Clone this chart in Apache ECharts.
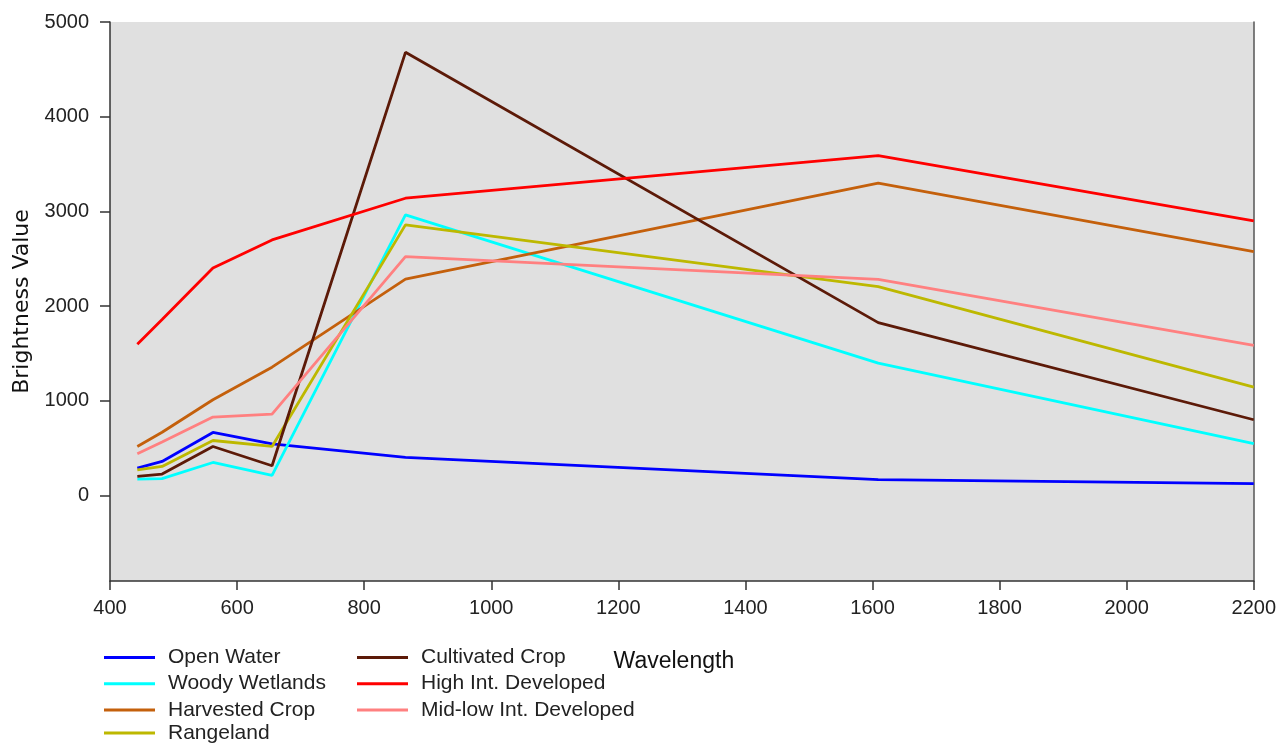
<!DOCTYPE html>
<html>
<head>
<meta charset="utf-8">
<script src="https://cdn.jsdelivr.net/npm/echarts@6/dist/echarts.min.js"></script>
<style>
html,body{margin:0;padding:0;background:#fff;}
#chart{width:1279px;height:744px;}
</style>
</head>
<body>
<div id="chart"></div>
<script>
const wavelengths = [443, 482, 562, 655, 865, 1609, 2200];
const openWater = [292, 362, 668, 548, 405, 170, 127];
const woodyWetlands = [176, 180, 351, 214, 2964, 1400, 549];
const harvestedCrop = [520, 670, 1013, 1357, 2286, 3300, 2577];
const rangeland = [274, 309, 583, 520, 2859, 2207, 1147];
const cultivatedCrop = [204, 229, 520, 316, 4680, 1827, 802];
const highIntDeveloped = [1600, 1860, 2403, 2700, 3140, 3590, 2901];
const midLowIntDeveloped = [443, 566, 830, 862, 2524, 2283, 1586];
const yTicks = [0, 1000, 2000, 3000, 4000, 5000];

const seriesDefs = [
  {name: 'Open Water', data: openWater, color: '#0000ff'},
  {name: 'Woody Wetlands', data: woodyWetlands, color: '#00ffff'},
  {name: 'Harvested Crop', data: harvestedCrop, color: '#c4600c'},
  {name: 'Rangeland', data: rangeland, color: '#bdb800'},
  {name: 'Cultivated Crop', data: cultivatedCrop, color: '#5c1a08'},
  {name: 'High Int. Developed', data: highIntDeveloped, color: '#ff0000'},
  {name: 'Mid-low Int. Developed', data: midLowIntDeveloped, color: '#ff8080'}
];

const font = 'Liberation Sans, Arial, sans-serif';
const chart = echarts.init(document.getElementById('chart'));
const legendBase = {
  orient: 'vertical',
  icon: 'rect',
  itemWidth: 51,
  itemHeight: 3,
  itemGap: 5.2,
  padding: 0,
  textStyle: {fontFamily: font, fontSize: 21, color: '#222', lineHeight: 20, padding: [0, 0, 0, 8]},
  selectedMode: false
};
chart.setOption({
  animation: false,
  backgroundColor: '#ffffff',
  grid: {left: 110, right: 25, top: 22, bottom: 163, show: true, backgroundColor: '#e0e0e0', borderWidth: 0},
  legend: [
    Object.assign({}, legendBase, {left: 104, top: 647, data: ['Open Water', 'Woody Wetlands', 'Harvested Crop']}),
    Object.assign({}, legendBase, {left: 104, top: 722.6, data: ['Rangeland']}),
    Object.assign({}, legendBase, {left: 357, top: 647, data: ['Cultivated Crop', 'High Int. Developed', 'Mid-low Int. Developed']})
  ],
  xAxis: {
    type: 'value', min: 400, max: 2200, interval: 200,
    name: 'Wavelength', nameLocation: 'middle', nameGap: 69,
    nameTextStyle: {fontFamily: font, fontSize: 23, color: '#111', padding: [0, 16, 0, 0]},
    axisLine: {show: true, onZero: false, lineStyle: {color: '#333', width: 1.5}},
    axisTick: {show: true, length: 9, lineStyle: {color: '#333', width: 1.5}},
    axisLabel: {fontFamily: font, fontSize: 20, color: '#222', margin: 17, formatter: v => String(v)},
    splitLine: {show: false}
  },
  yAxis: [{
    type: 'value', min: -900, max: 5000,
    name: 'Brightness Value', nameLocation: 'middle', nameGap: 77,
    nameTextStyle: {fontFamily: 'DejaVu Sans, sans-serif', fontSize: 22, color: '#111'},
    axisLine: {show: true, onZero: false, lineStyle: {color: '#333', width: 1.5}},
    axisTick: {show: true, length: 10, customValues: yTicks, lineStyle: {color: '#333', width: 1.5}},
    axisLabel: {fontFamily: font, fontSize: 20, color: '#222', margin: 21, customValues: yTicks, formatter: v => String(v)},
    splitLine: {show: false}
  }, {
    type: 'value', min: -900, max: 5000, position: 'right',
    axisLine: {show: true, onZero: false, lineStyle: {color: '#555', width: 1.5}},
    axisTick: {show: false}, axisLabel: {show: false}, splitLine: {show: false}
  }],
  series: seriesDefs.map(s => ({
    name: s.name,
    type: 'line',
    data: wavelengths.map((w, i) => [w, s.data[i]]),
    showSymbol: false,
    symbol: 'none',
    color: s.color,
    lineStyle: {color: s.color, width: 2.8},
    clip: true
  }))
});
</script>
</body>
</html>
